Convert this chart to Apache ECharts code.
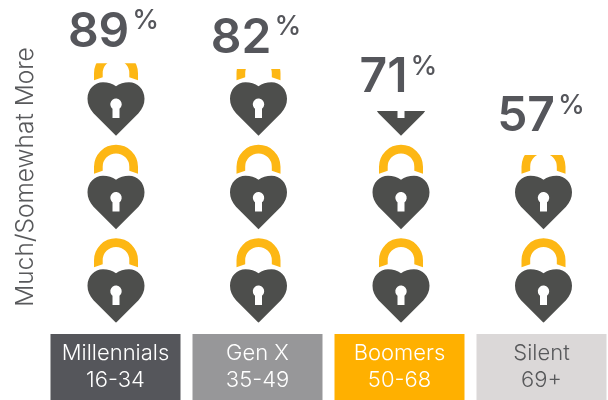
<!DOCTYPE html>
<html>
<head>
<meta charset="utf-8">
<style>
  html, body { margin: 0; padding: 0; background: #fff; }
  #chart { width: 608px; height: 400px; }
</style>
<script src="https://cdn.jsdelivr.net/npm/echarts@6/dist/echarts.min.js"></script>
</head>
<body>
<div id="chart"></div>
<script>
const categories = ['Millennials', 'Gen X', 'Boomers', 'Silent'];
const ageRanges = ['16-34', '35-49', '50-68', '69+'];
// Printed percentages
const shares = [89, 82, 71, 57];
// How far the locks are actually filled in the picture (% of the three lock stack)
const fillHeights = [95.6, 93.4, 78.0, 61.8];

const boxColors = ['#55565b', '#979799', '#ffb000', '#dbd8d8'];
const boxText = ['#ffffff', '#ffffff', '#ffffff', '#58595b'];
const labelLift = [1, 1, 3, 8];

// Both paths share one 57 x 84.5 box, the tiny corner marks keep them aligned
const heartPath = 'path://M0 0L0.01 0L0 0.01Z' +
    'M28.5 84.5L6 62C2 57 0 53 0 47.5C0 38 7 31 15.5 31C20.5 31 25 32.5 28.5 35' +
    'C32 32.5 36.5 31 41.5 31C50 31 57 38 57 47.5C57 53 55 57 51 62Z' +
    'M25 66.7L32 66.7L32 57.5A5.7 5.7 0 1 0 25 57.5Z';
const shacklePath = 'path://M57 0L56.99 0L57 0.01Z' +
    'M6.5 29L6.5 22A22 22 0 0 1 50.5 22L50.5 29L41.8 26L41.8 22A13.3 13.3 0 0 0 15.2 22L15.2 26Z' +
    'M0 84.5L0.01 84.5L0 84.49Z';

const chart = echarts.init(document.getElementById('chart'));

function lockSeries(name, path, color) {
    return {
        name: name,
        type: 'pictorialBar',
        xAxisIndex: 0,
        yAxisIndex: 0,
        symbol: path,
        symbolSize: [57, 84.5],
        symbolRepeat: 3,
        symbolMargin: 4.5,
        symbolClip: true,
        symbolBoundingData: 100,
        symbolPosition: 'start',
        barWidth: 57,
        barGap: '-100%',
        itemStyle: { color: color },
        data: fillHeights
    };
}

chart.setOption({
    animation: false,
    backgroundColor: '#fff',
    grid: [
        { left: 44.75, width: 570, top: 51.2, height: 271.5, outerBoundsMode: 'none' },
        { left: 44.5, width: 568, top: 326, height: 1, outerBoundsMode: 'none' }
    ],
    xAxis: [
        {
            type: 'category',
            gridIndex: 0,
            data: categories,
            axisLine: { show: false },
            axisTick: { show: false },
            axisLabel: { show: false }
        },
        {
            type: 'category',
            gridIndex: 1,
            data: categories.map((c, i) => ({
                value: c + '\n' + ageRanges[i],
                textStyle: {
                    color: boxText[i],
                    backgroundColor: boxColors[i],
                    width: 130,
                    height: 54,
                    padding: [6, 0, 6, 0],
                    lineHeight: 27,
                    align: 'center'
                }
            })),
            axisLine: { show: false },
            axisTick: { show: false },
            axisLabel: {
                interval: 0,
                margin: 7,
                fontFamily: 'Inter',
                fontSize: 22,
                fontWeight: 300
            }
        }
    ],
    yAxis: [
        {
            type: 'value',
            gridIndex: 0,
            min: 0,
            max: 100,
            name: 'Much/Somewhat More',
            nameLocation: 'middle',
            nameRotate: 90,
            nameGap: 7,
            nameTextStyle: {
                fontFamily: 'Inter',
                fontSize: 24.5,
                fontWeight: 300,
                color: '#58595b',
                padding: [0, 0, 0, 20]
            },
            axisLine: { show: false },
            axisTick: { show: false },
            axisLabel: { show: false },
            splitLine: { show: false }
        },
        { type: 'value', gridIndex: 1, show: false }
    ],
    series: [
        lockSeries('Shackle', shacklePath, '#fdb714'),
        lockSeries('Heart', heartPath, '#4d4e4c'),
        {
            // invisible bars only carry the big percent labels
            name: 'Share',
            type: 'bar',
            xAxisIndex: 0,
            yAxisIndex: 0,
            barWidth: 57,
            itemStyle: { color: 'transparent' },
            data: fillHeights.map((v, i) => ({
                value: v,
                label: {
                    show: true,
                    position: 'top',
                    offset: [-2.5, -labelLift[i]],
                    formatter: '{num|' + shares[i] + '}{pct|%}',
                    rich: {
                        num: { fontFamily: 'Inter', fontSize: 48, fontWeight: 600, color: '#55565b', lineHeight: 50 },
                        pct: { fontFamily: 'Inter', fontSize: 27, fontWeight: 500, color: '#55565b', verticalAlign: 'top', lineHeight: 50, padding: [0, 0, 0, 3] }
                    }
                }
            }))
        }
    ]
});
</script>
</body>
</html>
